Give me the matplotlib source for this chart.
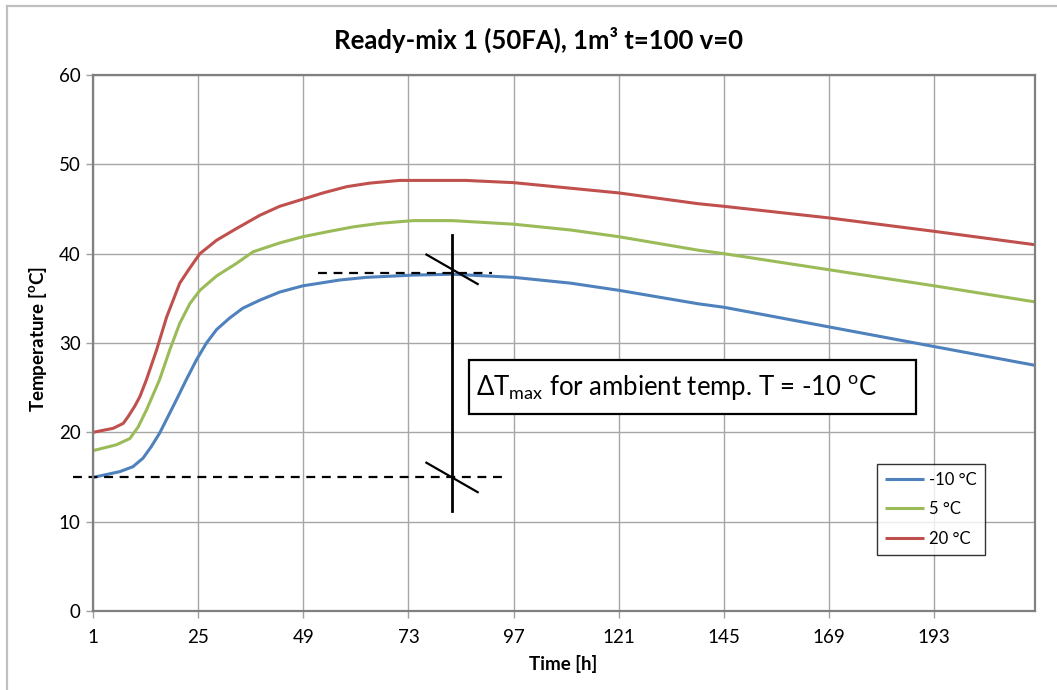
import matplotlib
matplotlib.use("Agg")
import matplotlib.pyplot as plt
from matplotlib.patches import Rectangle
from matplotlib.lines import Line2D

plt.rcParams['font.family'] = ['Lato', 'DejaVu Sans']
plt.rcParams['mathtext.fontset'] = 'custom'
plt.rcParams['mathtext.rm'] = 'Lato'
plt.rcParams['mathtext.bf'] = 'Lato:bold'

# Concrete core temperature [°C] over time [h] for three ambient temperatures
hours_m10 = [1, 7.1, 10.1, 12.4, 14.3, 16.2, 18.1, 20.0, 22.3, 24.6, 26.9, 29.2, 32.2, 35.2, 39.1, 43.6,
             48.9, 52.8, 57.3, 63.4, 74.1, 83, 97, 110, 121, 139, 145, 169, 193, 216]
temp_m10 = [14.95, 15.6, 16.15, 17.1, 18.4, 19.9, 21.75, 23.6, 25.9, 28.1, 30.0, 31.5, 32.8, 33.9, 34.8,
            35.7, 36.4, 36.7, 37.05, 37.35, 37.6, 37.7, 37.35, 36.7, 35.9, 34.4, 34.0, 31.8, 29.6, 27.5]

hours_p5 = [1, 6.3, 9.4, 11.3, 13.2, 16.2, 18.5, 20.8, 23.1, 25.4, 29.2, 33.7, 37.5, 43.6, 48.9, 55.0,
            60.4, 66.5, 74.1, 83, 97, 110, 121, 139, 145, 169, 193, 216]
temp_p5 = [17.95, 18.6, 19.3, 20.6, 22.5, 25.9, 29.2, 32.2, 34.4, 35.9, 37.5, 38.9, 40.2, 41.2, 41.9, 42.5,
           43.0, 43.4, 43.7, 43.7, 43.3, 42.65, 41.9, 40.4, 40.0, 38.2, 36.4, 34.6]

hours_p20 = [1, 5.6, 7.9, 9.0, 10.5, 11.7, 13.2, 15.5, 17.8, 20.8, 23.1, 25.4, 29.2, 33.7, 39.1, 43.6,
             48.9, 53.5, 58.9, 64.2, 71.0, 86, 97, 121, 139, 145, 169, 193, 216]
temp_p20 = [20.0, 20.45, 21.0, 21.75, 22.9, 24.0, 25.9, 29.2, 32.9, 36.7, 38.4, 40.0, 41.5, 42.8, 44.3, 45.3,
            46.1, 46.8, 47.5, 47.9, 48.2, 48.2, 47.95, 46.8, 45.6, 45.3, 44.0, 42.5, 41.0]

series_labels = ['-10 °C', '5 °C', '20 °C']
series_colors = ['#4F81BD', '#9BBB59', '#C0504D']

x_ticks = [1, 25, 49, 73, 97, 121, 145, 169, 193]
y_ticks = [0, 10, 20, 30, 40, 50, 60]

# Delta-T construction for the -10 °C case
t_mark = 83
t_ambient = 15.0
t_peak = 37.8

W, H = 1057, 690
fig = plt.figure(figsize=(W / 100, H / 100), dpi=100)

def fx(px):
    return px / W

def fy(py):
    return 1 - py / H

# outer chart frame (left and top edges)
fig.add_artist(Line2D([fx(7), fx(7)], [fy(6), 0], color='#c0c0c0', lw=1.6))
fig.add_artist(Line2D([fx(7), 1], [fy(6), fy(6)], color='#c0c0c0', lw=1.6))

ax = fig.add_axes([fx(93), fy(611), fx(1035 - 93), (611 - 75) / H])

for xs, ys, lab, col in zip([hours_m10, hours_p5, hours_p20], [temp_m10, temp_p5, temp_p20],
                            series_labels, series_colors):
    ax.plot(xs, ys, color=col, lw=2.2, label=lab, solid_capstyle='butt', solid_joinstyle='round')

ax.set_xlim(1, 216)
ax.set_ylim(0, 60)
ax.set_xticks(x_ticks)
ax.set_yticks(y_ticks)
ax.tick_params(axis='both', direction='out', length=5, width=1, color='#a0a0a0', labelsize=13.5, pad=4)
ax.tick_params(axis='x', pad=8)
ax.grid(True, color='#a6a6a6', lw=1.0)
ax.set_axisbelow(True)
for s in ax.spines.values():
    s.set_color('#808080')
    s.set_linewidth(1.6)

# delta-T annotation
kw = dict(color='black', clip_on=False)
ax.plot([-3.5, 94.3], [t_ambient, t_ambient], ls=(0, (4, 3)), lw=1.6, **kw)
ax.plot([52.4, 92.0], [t_peak, t_peak], ls=(0, (4, 3)), lw=1.6, **kw)
ax.plot([t_mark, t_mark], [11.2, 42.1], lw=2.0, **kw)
ax.plot([77.1, 88.8], [t_peak + 2.1, t_peak - 1.2], lw=1.6, **kw)
ax.plot([77.1, 88.8], [t_ambient + 1.6, t_ambient - 1.7], lw=1.6, **kw)

fig.add_artist(Rectangle((fx(468.5), fy(414)), fx(915.5 - 468.5), (414 - 359.5) / H,
                         transform=fig.transFigure, facecolor='white', edgecolor='black', lw=1.6))
fig.text(fx(476), fy(388), r'ΔT$_{\mathregular{max}}$ for ambient temp. T = -10 $^{\mathregular{o}}$C',
         fontsize=18.5, va='center', ha='left')

leg = ax.legend(loc='upper left', bbox_to_anchor=(fx(877), fy(463.5)), bbox_transform=fig.transFigure,
                borderaxespad=0, fontsize=12, frameon=True, fancybox=False, handlelength=2.3,
                handletextpad=0.3, labelspacing=0.8, borderpad=0.5)
leg.get_frame().set_edgecolor('black')
leg.get_frame().set_linewidth(1.0)

fig.text(fx(538.5), fy(40), 'Ready-mix 1 (50FA), 1m³ t=100 v=0', fontsize=18.5, fontweight='bold',
         ha='center', va='center')
fig.text(fx(563), fy(664), 'Time [h]', fontsize=13.5, fontweight='bold', ha='center', va='center')
fig.text(fx(38), fy(339), r'Temperature [$^{\mathbf{o}}$C]', fontsize=13.5, fontweight='bold',
         ha='center', va='center', rotation=90)

fig.savefig('out.png', dpi=100)
